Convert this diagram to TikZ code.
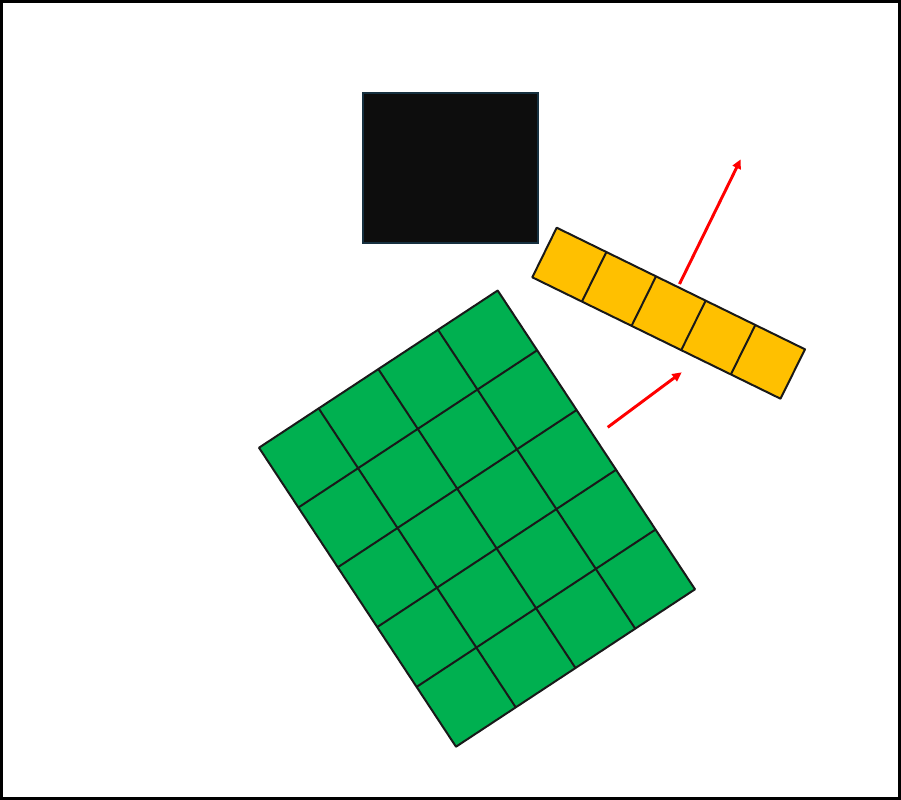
\documentclass[tikz,border=0pt]{standalone}
\usetikzlibrary{arrows.meta,calc}
\definecolor{gridgreen}{HTML}{00B050}
\definecolor{stripyellow}{HTML}{FFC000}
\definecolor{boxfill}{HTML}{0D0D0D}
\definecolor{boxedge}{HTML}{16303F}
\tikzset{
  cellline/.style={draw=black!90, line width=1.5pt, line join=round},
  redarrow/.style={draw=red, line width=2.2pt, -{Triangle[length=7pt,width=6.5pt]}},
}
\begin{document}
\begin{tikzpicture}[x=0.75pt,y=-0.75pt]
\useasboundingbox (0,0) rectangle (901,800);
\draw[line width=2.25pt] (1.5,1.5) rectangle (899.5,798.5);
% black box
\draw[fill=boxfill, draw=boxedge, line width=1.5pt] (363,92.5) rectangle (537.5,242.5);
% yellow strip
\coordinate (ya) at (556.7,227.7);
\coordinate (yb) at (805,349.3);
\coordinate (yc) at (780.5,398.7);
\coordinate (yd) at (532.3,277.3);
\fill[stripyellow] (ya) -- (yb) -- (yc) -- (yd) -- cycle;
\foreach \k in {1,2,3,4}{
  \draw[cellline] ($(ya)!\k/5!(yb)$) -- ($(yd)!\k/5!(yc)$);
}
\draw[cellline] (ya) -- (yb) -- (yc) -- (yd) -- cycle;
% green grid
\coordinate (gt) at (497.7,290.5);
\coordinate (gr) at (695,589.3);
\coordinate (gb) at (456,746.7);
\coordinate (gl) at (259,447.7);
\fill[gridgreen] (gt) -- (gr) -- (gb) -- (gl) -- cycle;
\foreach \k in {1,2,3}{
  \draw[cellline] ($(gl)!\k/4!(gt)$) -- ($(gb)!\k/4!(gr)$);
}
\foreach \k in {1,2,3,4}{
  \draw[cellline] ($(gt)!\k/5!(gr)$) -- ($(gl)!\k/5!(gb)$);
}
\draw[cellline] (gt) -- (gr) -- (gb) -- (gl) -- cycle;
% red arrows
\coordinate (a1s) at (679.5,284);
\coordinate (a1e) at (740.7,159.3);
\coordinate (a2s) at (607.7,427.3);
\coordinate (a2e) at (681.7,372.3);
\draw[redarrow] (a1s) -- (a1e);
\draw[redarrow] (a2s) -- (a2e);
\end{tikzpicture}
\end{document}
